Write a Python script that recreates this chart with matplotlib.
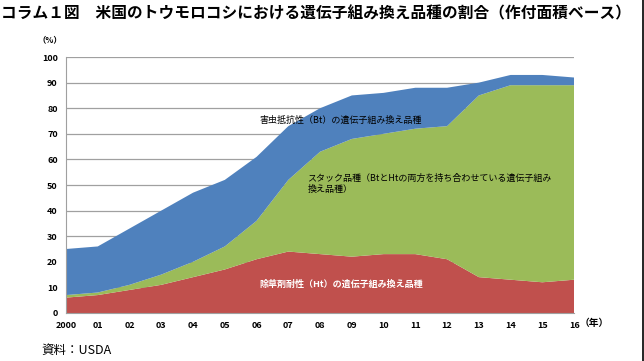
import matplotlib
matplotlib.use("Agg")
import matplotlib.pyplot as plt

plt.rcParams['font.family'] = ['Noto Sans CJK JP', 'DejaVu Sans']

years = ['2000', '01', '02', '03', '04', '05', '06', '07', '08',
         '09', '10', '11', '12', '13', '14', '15', '16']
ht_only = [6, 7, 9, 11, 14, 17, 21, 24, 23, 22, 23, 23, 21, 14, 13, 12, 13]
stacked = [1, 1, 2, 4, 6, 9, 15, 28, 40, 46, 47, 49, 52, 71, 76, 77, 76]
bt_only = [18, 18, 22, 25, 27, 26, 25, 21, 17, 17, 16, 16, 15, 5, 4, 4, 3]

x = list(range(len(years)))

fig = plt.figure(figsize=(6.44, 3.61), dpi=100)
ax = fig.add_axes([0.1025, 0.133, 0.789, 0.709])

ax.stackplot(x, ht_only, stacked, bt_only,
             colors=['#C0504D', '#9BBB59', '#4F81BD'], linewidth=0, zorder=2)

ax.set_xlim(0, 16)
ax.set_ylim(0, 100)
ax.set_yticks(range(0, 101, 10))
ax.set_xticks(x)
ax.set_xticklabels(years)
ax.yaxis.grid(True, color='#a0a0a0', linewidth=0.9, zorder=0)
ax.set_axisbelow(True)
for s in ['top', 'right']:
    ax.spines[s].set_visible(False)
ax.spines['left'].set_color('#a0a0a0')
ax.spines['bottom'].set_color('#a0a0a0')
ax.tick_params(length=0, labelsize=6.5, pad=6)
for lab in ax.get_xticklabels() + ax.get_yticklabels():
    lab.set_fontweight('bold')

ax.text(6.1, 75.4, '害虫抵抗性（Bt）の遺伝子組み換え品種', fontsize=6.5,
        va='center', ha='left', color='black', zorder=5)
ax.text(7.6, 50.5, 'スタック品種（BtとHtの両方を持ち合わせている遺伝子組み\n換え品種）',
        fontsize=6.5, va='center', ha='left', color='black',
        linespacing=1.25, zorder=5)
ax.text(6.1, 11.3, '除草剤耐性（Ht）の遺伝子組み換え品種', fontsize=6.5,
        va='center', ha='left', color='white', fontweight='bold', zorder=5)

fig.text(0.002, 0.962, 'コラム１図　米国のトウモロコシにおける遺伝子組み換え品種の割合（作付面積ベース）',
         fontsize=11.3, fontweight='bold', va='center', ha='left')
fig.text(0.078, 0.889, '（%）', fontsize=6, fontweight='bold', va='center', ha='center')
fig.text(0.922, 0.105, '（年）', fontsize=7, fontweight='bold', va='center', ha='center')
fig.text(0.065, 0.03, '資料：USDA', fontsize=9, va='center', ha='left')

fig.add_artist(plt.Line2D([0.998, 0.998], [0, 1], color='black', linewidth=1.2,
                          transform=fig.transFigure))

fig.savefig('out.png', dpi=100)
